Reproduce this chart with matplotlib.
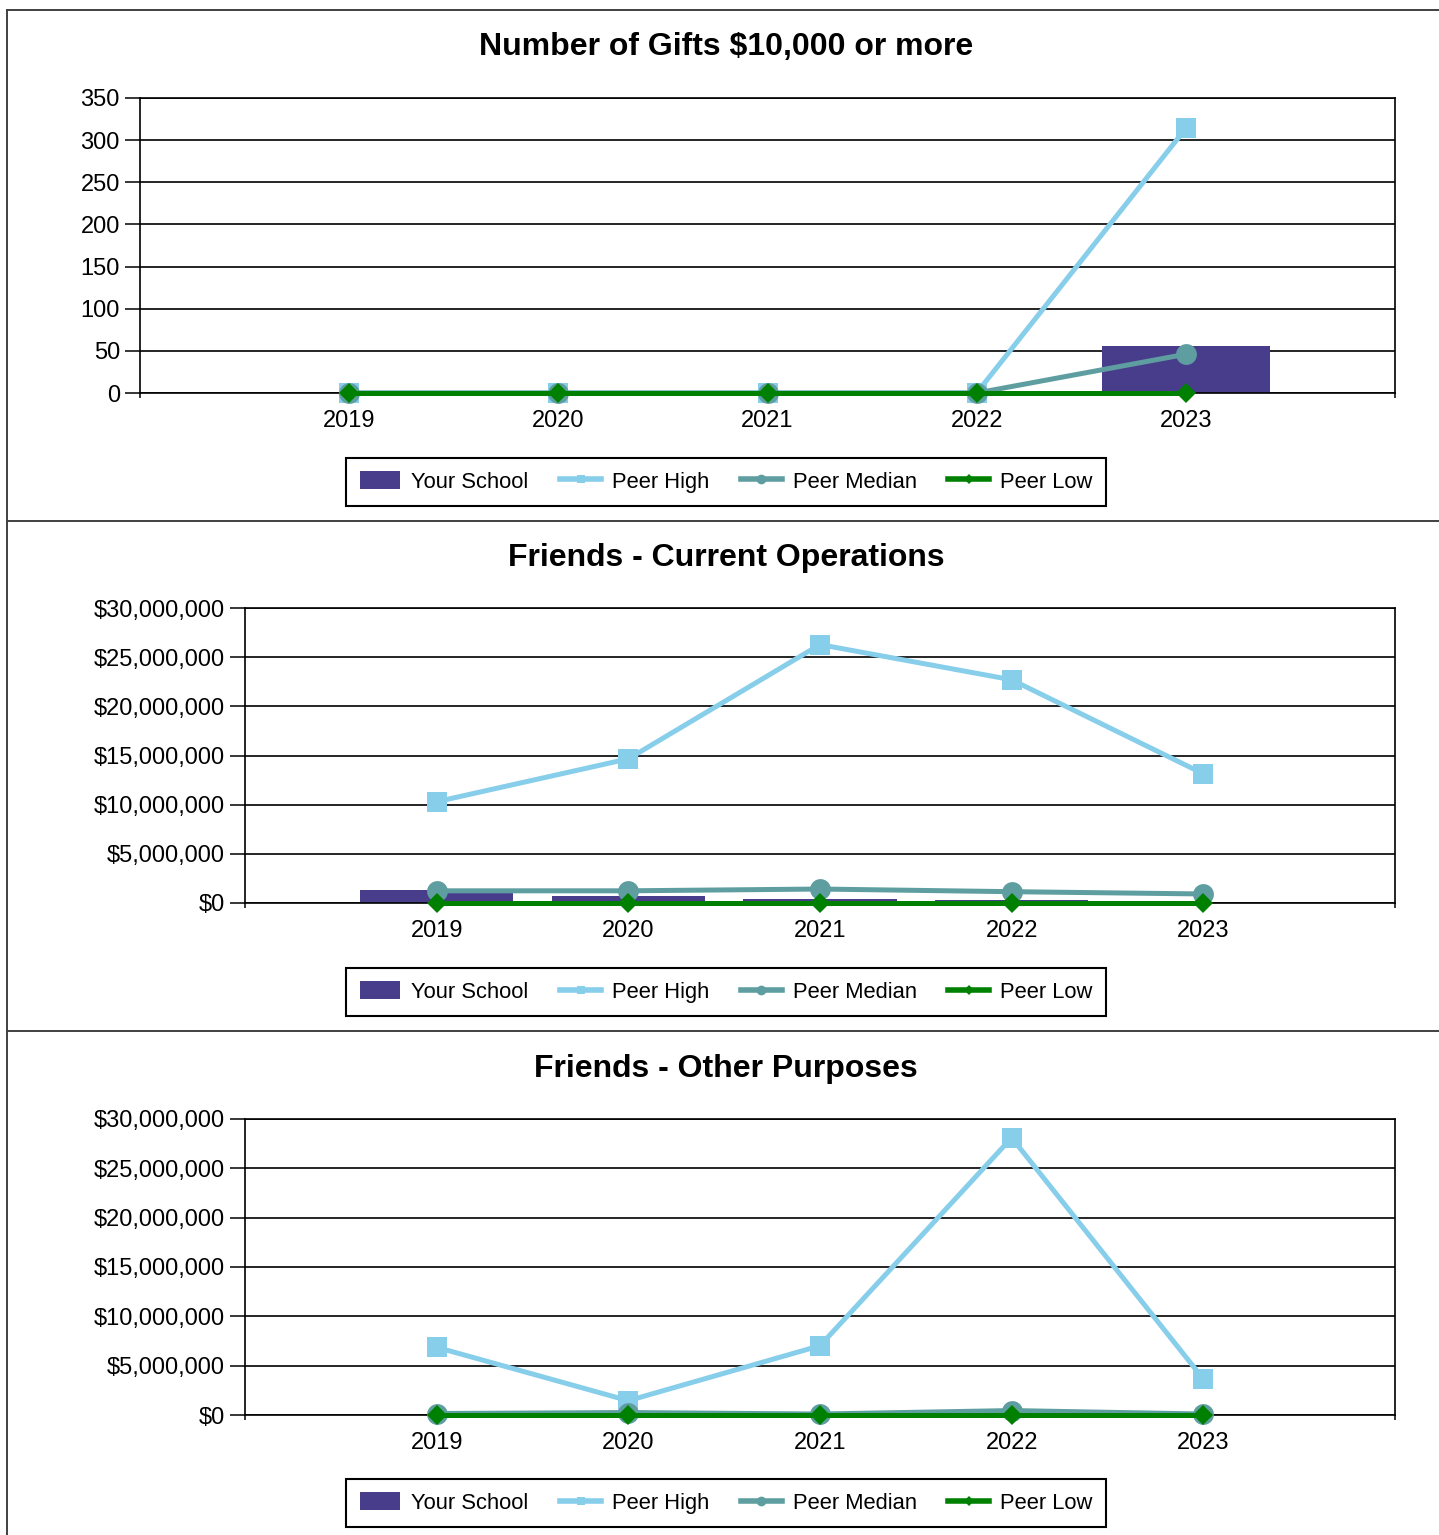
import matplotlib
matplotlib.use("Agg")
import matplotlib.pyplot as plt
from matplotlib.lines import Line2D
from matplotlib.patches import Patch
from matplotlib.ticker import FuncFormatter, FixedLocator

plt.rcParams['font.family'] = ['Liberation Sans', 'DejaVu Sans']

years = ['2019', '2020', '2021', '2022', '2023']

# Chart 1: Number of Gifts $10,000 or more
gifts_school = [0, 0, 0, 0, 56]
gifts_high = [0, 0, 0, 0, 314]
gifts_median = [0, 0, 0, 0, 46]
gifts_low = [0, 0, 0, 0, 0]

# Chart 2: Friends - Current Operations
cur_school = [1280000, 670000, 410000, 340000, 30000]
cur_high = [10300000, 14660000, 26280000, 22700000, 13140000]
cur_median = [1240000, 1240000, 1420000, 1150000, 920000]
cur_low = [0, 0, 0, 0, 0]

# Chart 3: Friends - Other Purposes
oth_school = [0, 0, 0, 0, 0]
oth_high = [6860000, 1450000, 7020000, 28100000, 3650000]
oth_median = [150000, 250000, 100000, 450000, 100000]
oth_low = [0, 0, 0, 0, 0]

titles = ['Number of Gifts $10,000 or more',
          'Friends - Current Operations',
          'Friends - Other Purposes']
series_names = ['Your School', 'Peer High', 'Peer Median', 'Peer Low']

C_SCHOOL = '#483D8B'
C_HIGH = '#87CEEB'
C_MED = '#5F9EA0'
C_LOW = '#008000'

W, H = 1439, 1535
fig = plt.figure(figsize=(W / 100, H / 100), dpi=100)


def px_axes(l, t, r, b):
    return fig.add_axes([l / W, 1 - b / H, (r - l) / W, (b - t) / H])


panels = [
    dict(box=(140, 98, 1395, 393), title_y=47, leg_y=482,
         data=(gifts_school, gifts_high, gifts_median, gifts_low),
         ylim=(0, 350), ystep=50, money=False),
    dict(box=(245, 608, 1395, 903), title_y=558, leg_y=992,
         data=(cur_school, cur_high, cur_median, cur_low),
         ylim=(0, 30000000), ystep=5000000, money=True),
    dict(box=(245, 1119, 1395, 1415), title_y=1069, leg_y=1503,
         data=(oth_school, oth_high, oth_median, oth_low),
         ylim=(0, 30000000), ystep=5000000, money=True),
]

x = list(range(len(years)))

for i, p in enumerate(panels):
    ax = px_axes(*p['box'])
    school, high, med, low = p['data']
    ax.bar(x, school, width=0.8, color=C_SCHOOL, zorder=2, linewidth=0)
    ax.plot(x, high, color=C_HIGH, lw=3.6, marker='s', ms=14, mew=0, zorder=3,
            clip_on=False)
    ax.plot(x, med, color=C_MED, lw=3.6, marker='o', ms=15, mew=0, zorder=4,
            clip_on=False)
    ax.plot(x, low, color=C_LOW, lw=3.6, marker='D', ms=10.5, mew=0, zorder=5,
            clip_on=False)

    ax.set_xlim(-1, 5)
    ax.set_ylim(*p['ylim'])
    yt = list(range(p['ylim'][0], p['ylim'][1] + 1, p['ystep']))
    ax.set_yticks(yt)
    if p['money']:
        ax.yaxis.set_major_formatter(FuncFormatter(lambda v, pos: f"${v:,.0f}"))
    ax.xaxis.set_major_locator(FixedLocator([-1, 0, 1, 2, 3, 4, 5]))
    ax.set_xticklabels([''] + years + [''])

    ax.grid(axis='y', color='black', lw=1.2)
    ax.set_axisbelow(True)
    for s in ax.spines.values():
        s.set_color('black')
        s.set_linewidth(1.2)
    ax.tick_params(axis='y', length=10.5, width=1.1, pad=4, labelsize=17, direction='out')
    ax.tick_params(axis='x', length=3.6, width=1.1, pad=8.5, labelsize=17, direction='out')

    fig.text(726 / W, 1 - p['title_y'] / H, titles[i], ha='center', va='center',
             fontsize=23, fontweight='bold')

    handles = [
        Patch(facecolor=C_SCHOOL, edgecolor='none'),
        Line2D([], [], color=C_HIGH, lw=4, marker='s', ms=6, mew=0),
        Line2D([], [], color=C_MED, lw=4, marker='o', ms=7, mew=0),
        Line2D([], [], color=C_LOW, lw=4, marker='D', ms=5, mew=0),
    ]
    leg = fig.legend(handles, series_names, loc='center',
                     bbox_to_anchor=(726 / W, 1 - p['leg_y'] / H), ncol=4,
                     fontsize=15.8, frameon=True, fancybox=False, framealpha=1,
                     edgecolor='black', borderpad=0.62, handlelength=1.85,
                     handleheight=0.85, handletextpad=0.5, columnspacing=1.45,
                     borderaxespad=0)
    leg.get_frame().set_linewidth(1.5)

# panel border lines
lc = '#404040'
fig.add_artist(Line2D([7 / W, 1], [1 - 10 / H, 1 - 10 / H], color=lc, lw=1.4))
fig.add_artist(Line2D([7 / W, 7 / W], [0, 1 - 10 / H], color=lc, lw=1.4))
for yy in (520.5, 1030.5):
    fig.add_artist(Line2D([7 / W, 1], [1 - yy / H, 1 - yy / H], color=lc, lw=1.4))

fig.savefig('out.png', dpi=100, facecolor='white')
